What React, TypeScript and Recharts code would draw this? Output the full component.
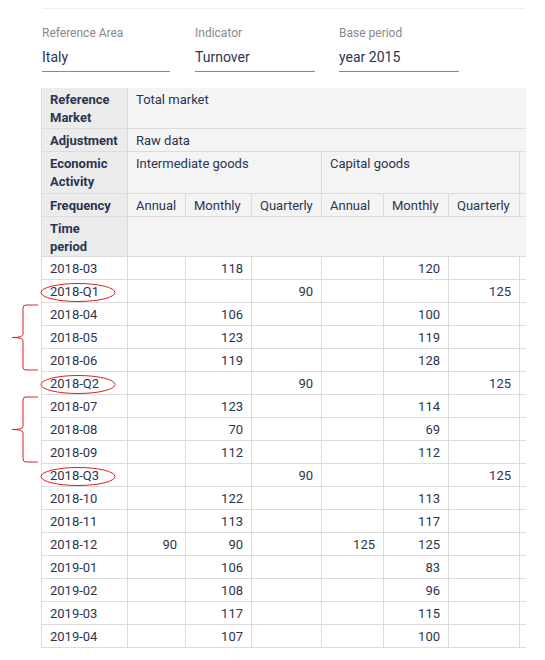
import React from 'react';
import { Surface, Layer } from 'recharts';

const periods = ['2018-03', '2018-Q1', '2018-04', '2018-05', '2018-06', '2018-Q2', '2018-07', '2018-08', '2018-09', '2018-Q3', '2018-10', '2018-11', '2018-12', '2019-01', '2019-02', '2019-03', '2019-04'];
const interAnnual = [null, null, null, null, null, null, null, null, null, null, null, null, 90, null, null, null, null];
const interMonthly = [118, null, 106, 123, 119, null, 123, 70, 112, null, 122, 113, 90, 106, 108, 117, 107];
const interQuarterly = [null, 90, null, null, null, 90, null, null, null, 90, null, null, null, null, null, null, null];
const capAnnual = [null, null, null, null, null, null, null, null, null, null, null, null, 125, null, null, null, null];
const capMonthly = [120, null, 100, 119, 128, null, 114, 69, 112, null, 113, 117, 125, 83, 96, 115, 100];
const capQuarterly = [null, 125, null, null, null, 125, null, null, null, 125, null, null, null, null, null, null, null];
const frequencies = ['Annual', 'Monthly', 'Quarterly', 'Annual', 'Monthly', 'Quarterly'];
const fields = [
  { label: 'Reference Area', value: 'Italy' },
  { label: 'Indicator', value: 'Turnover' },
  { label: 'Base period', value: 'year 2015' },
];
const marked = ['2018-Q1', '2018-Q2', '2018-Q3'];
const braced = [['2018-04', '2018-06'], ['2018-07', '2018-09']];

const FONT = 'Roboto, sans-serif';
const TXT = '#2a3550';
const BORDER = '#dcdcdc';
const colX = [42, 128, 186, 252, 322, 384, 449, 520, 560];
const ROW0 = 257;
const RH = 23;

const cell = (x: number, y: number, w: number, h: number, bg: string, content: React.ReactNode, opts: any = {}) => (
  <div style={{
    position: 'absolute', left: x, top: y, width: w, height: h, boxSizing: 'border-box',
    background: bg, borderRight: `1px solid ${BORDER}`, borderBottom: `1px solid ${BORDER}`,
    padding: opts.right ? '3px 8px 0 0' : '3px 0 0 8px', textAlign: opts.right ? 'right' : 'left',
    fontWeight: opts.bold ? 700 : 400, lineHeight: '18px', whiteSpace: 'pre-line', overflow: 'hidden',
  }}>{content}</div>
);

const App = () => {
  document.body.style.margin = '0';
  const seriesCols = [interAnnual, interMonthly, interQuarterly, capAnnual, capMonthly, capQuarterly];
  const head = '#f4f4f4';
  const lab = '#ececec';
  const rowY = (p: string) => ROW0 + periods.indexOf(p) * RH;
  return (
    <div style={{ position: 'relative', width: 545, height: 660, overflow: 'hidden', fontFamily: FONT, fontSize: 13, color: TXT, background: '#fff' }}>
      <div style={{ position: 'absolute', left: 42, top: 8, width: 483, borderTop: '1px solid #eee' }} />
      {fields.map((f, i) => (
        <div key={f.label} style={{ position: 'absolute', left: [42, 195, 339][i], top: 26, width: 120 + (i === 0 ? 8 : 0), borderBottom: '1px solid #888', height: 45 }}>
          <div style={{ fontSize: 12, color: '#888' }}>{f.label}</div>
          <div style={{ fontSize: 14, marginTop: 9 }}>{f.value}</div>
        </div>
      ))}
      <div style={{ position: 'absolute', left: 0, top: 0, width: 526, height: 660, overflow: 'hidden' }}>
        <div style={{ position: 'absolute', left: 42, top: 88, width: 483, borderTop: `1px solid ${BORDER}` }} />
        <div style={{ position: 'absolute', left: 41, top: 88, height: 560, borderLeft: `1px solid ${BORDER}` }} />
        {cell(42, 88, 86, 41, lab, 'Reference\nMarket', { bold: true })}
        {cell(128, 88, 432, 41, head, 'Total market')}
        {cell(42, 129, 86, 23, lab, 'Adjustment', { bold: true })}
        {cell(128, 129, 432, 23, head, 'Raw data')}
        {cell(42, 152, 86, 42, lab, 'Economic\nActivity', { bold: true })}
        {cell(128, 152, 194, 42, head, 'Intermediate goods')}
        {cell(322, 152, 198, 42, head, 'Capital goods')}
        {cell(520, 152, 40, 42, head, '')}
        {cell(42, 194, 86, 23, lab, 'Frequency', { bold: true })}
        {frequencies.map((f, i) => <React.Fragment key={i}>{cell(colX[i + 1], 194, colX[i + 2] - colX[i + 1], 23, head, f)}</React.Fragment>)}
        {cell(520, 194, 40, 23, head, '')}
        {cell(42, 217, 86, 40, lab, 'Time\nperiod', { bold: true })}
        {cell(128, 217, 432, 40, head, '')}
        {periods.map((p, r) => (
          <React.Fragment key={p}>
            {cell(42, ROW0 + r * RH, 86, RH, '#fff', p)}
            {seriesCols.map((s, c) => <React.Fragment key={c}>{cell(colX[c + 1], ROW0 + r * RH, colX[c + 2] - colX[c + 1], RH, '#fff', s[r] ?? '', { right: true })}</React.Fragment>)}
            {cell(520, ROW0 + r * RH, 40, RH, '#fff', '')}
          </React.Fragment>
        ))}
      </div>
      <div style={{ position: 'absolute', left: 0, top: 0 }}>
        <Surface width={545} height={660}>
          <Layer>
            {marked.map((p) => (
              <ellipse key={p} cx={78} cy={rowY(p) + RH / 2 + 1} rx={37} ry={9} fill="none" stroke="#e02020" strokeWidth={1} />
            ))}
            {braced.map(([a, b]) => {
              const y1 = rowY(a) + 2;
              const y2 = rowY(b) + RH - 2;
              const m = (y1 + y2) / 2;
              return (
                <path key={a} fill="none" stroke="#e02020" strokeWidth={1}
                  d={`M38 ${y1} L26 ${y1} Q23 ${y1} 23 ${y1 + 3} L23 ${m - 3} Q23 ${m} 12 ${m} Q23 ${m} 23 ${m + 3} L23 ${y2 - 3} Q23 ${y2} 26 ${y2} L38 ${y2}`} />
              );
            })}
          </Layer>
        </Surface>
      </div>
    </div>
  );
};

export default App;
